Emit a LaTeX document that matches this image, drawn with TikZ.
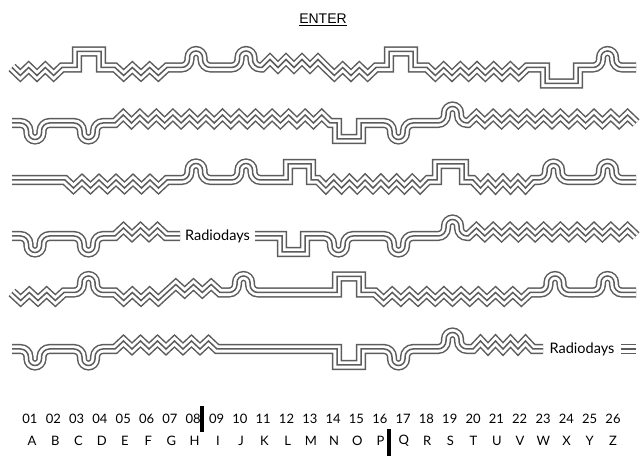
\documentclass[tikz,border=0pt]{standalone}
\usepackage{fontspec}
\setmainfont{Lato}
\newfontfamily\enterfont{Liberation Sans}
\definecolor{ln}{gray}{0.36}
% arc bump (up) centred at #1
\newcommand\AB[1]{-- ({#1-14.5},0) arc[start angle=270,end angle=360,radius=8pt] -- ++(0,2) arc[start angle=180,end angle=0,radius=6.5pt] -- ++(0,-2) arc[start angle=180,end angle=270,radius=8pt]}
% U dip (down) centred at #1
\newcommand\UD[1]{-- ({#1-14.5},0) arc[start angle=90,end angle=0,radius=8pt] -- ++(0,-2) arc[start angle=180,end angle=360,radius=6.5pt] -- ++(0,2) arc[start angle=180,end angle=90,radius=8pt]}
% square bump / dip from #1 to #2, height #3
\newcommand\SQ[3]{-- (#1,0) -- (#1,#3) -- (#2,#3) -- (#2,0)}
% zigzag from #1 to #2 with #3 periods, amplitude #4 (+ up, - down)
\newcommand\ZZ[4]{foreach \k in {1,...,#3} { -- ++({(#2-#1)/(2*#3)},{#4}) -- ++({(#2-#1)/(2*#3)},{-1*(#4)}) }}
\newcommand\trip[1]{\draw[ln,line width=10.1pt] #1; \draw[white,line width=7.1pt] #1; \draw[ln,line width=1.5pt] #1;}
\begin{document}
\begin{tikzpicture}[x=1pt,y=1pt,
  rd/.style={font=\fontsize{14.5}{16}\selectfont, inner sep=0pt},
  num/.style={font=\fontsize{13}{15}\selectfont, inner sep=0pt},
  lett/.style={font=\fontsize{13}{15}\selectfont, inner sep=0pt}]
\useasboundingbox (0,0) rectangle (640,466);
\fill[white] (0,0) rectangle (640,466);
\node[font=\enterfont\fontsize{14}{16}\selectfont, inner sep=0pt] (enter) at (323,446) {\underline{ENTER}};
% row 1
\begin{scope}[yshift=398.5pt]
\trip{(12,0) \ZZ{12}{62}{3}{-8} \SQ{77}{101}{16} -- (115,0) \ZZ{115}{167}{3}{-8} \AB{196} \AB{246} -- (262,0) \ZZ{262}{326}{4}{8} \ZZ{326}{376}{3}{-8} \SQ{389}{413}{16} -- (427,0) \ZZ{427}{527}{6}{-8} \SQ{545}{578}{-16} \AB{607.5} -- (636,0)}
\end{scope}
% row 2
\begin{scope}[yshift=343pt]
\trip{(12,0) \UD{35} \UD{88.5} -- (115,0) \ZZ{115}{330}{13}{8} \SQ{337}{361}{-16} \UD{398.5} \AB{452.5} -- (468,0) \ZZ{468}{636}{10}{8}}
\end{scope}
% row 3
\begin{scope}[yshift=286pt]
\trip{(12,0) -- (65,0) \ZZ{65}{167}{6}{-8} \AB{196} \AB{246} \SQ{288}{311}{16} -- (318,0) \ZZ{318}{428}{7}{-8} \SQ{437}{464}{16} -- (473,0) \ZZ{473}{533}{4}{-8} \AB{553.5} \AB{607.5} -- (636,0)}
\end{scope}
% row 4
\begin{scope}[yshift=230pt]
\trip{(12,0) \UD{35} \UD{88.5} -- (115,0) \ZZ{115}{166}{3}{8} -- (180,0)}
\node[rd] (r4) at (217.5,0) {Radiodays};
\trip{(255,0) \SQ{282}{305}{-16} \UD{338.5} \UD{398.5} \AB{452.5} -- (468,0) \ZZ{468}{636}{10}{8}}
\end{scope}
% row 5
\begin{scope}[yshift=173.5pt]
\trip{(12,0) \ZZ{12}{64}{3}{-8} \AB{88.5} -- (115,0) \ZZ{115}{167}{3}{-8} \ZZ{167}{220}{3}{8} \AB{243.5} \SQ{337}{361}{16} -- (375,0) \ZZ{375}{530}{9}{-8} \AB{555} \AB{607.5} -- (636,0)}
\end{scope}
% row 6
\begin{scope}[yshift=117pt]
\trip{(12,0) \UD{35} \UD{88.5} -- (115,0) \ZZ{115}{217}{6}{8} \SQ{337}{361}{-16} \UD{398.5} \AB{452.5} -- (473,0) \ZZ{473}{533}{4}{8} -- (543,0)}
\node[rd] (r6) at (582,0) {Radiodays};
\trip{(621,0) -- (636,0)}
\end{scope}
% numbers and letters
\foreach \i in {1,...,26} {
  \node[num] (n\i) at ({30+(\i-1)*23.32},47) {\ifnum\i<10 0\fi\i};
}
\foreach \l [count=\i] in {A,...,Z} {
  \node[lett] (l\i) at ({32+(\i-1)*23.24},25) {\l};
}
\fill[black] (199.5,34.3) rectangle (204,60.3);
\fill[black] (386.7,10) rectangle (390.7,37);
\end{tikzpicture}
\end{document}
